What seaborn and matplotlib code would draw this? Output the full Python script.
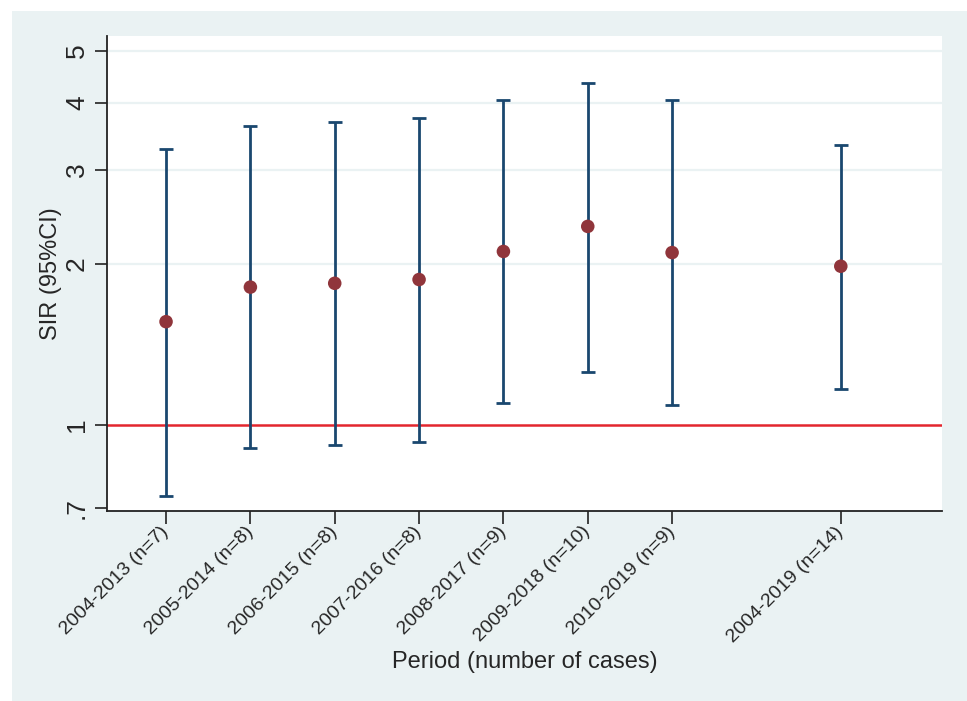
import matplotlib
matplotlib.use("Agg")
import matplotlib.pyplot as plt
import seaborn as sns
import pandas as pd
import numpy as np
from matplotlib.patches import Rectangle
from matplotlib.ticker import FixedLocator, NullLocator

periods = ["2004-2013 (n=7)", "2005-2014 (n=8)", "2006-2015 (n=8)", "2007-2016 (n=8)",
           "2008-2017 (n=9)", "2009-2018 (n=10)", "2010-2019 (n=9)", "2004-2019 (n=14)"]
xpos = [1, 2, 3, 4, 5, 6, 7, 9]
sir = [1.56, 1.81, 1.84, 1.87, 2.11, 2.35, 2.10, 1.98]
ci_low = [0.738, 0.908, 0.919, 0.928, 1.098, 1.258, 1.089, 1.168]
ci_high = [3.28, 3.62, 3.68, 3.74, 4.04, 4.36, 4.04, 3.34]
yticks = [0.7, 1, 2, 3, 4, 5]
ytick_labels = [".7", "1", "2", "3", "4", "5"]

df = pd.DataFrame({"x": xpos, "sir": sir, "lo": ci_low, "hi": ci_high, "period": periods})

sns.set_style("white")
plt.rcParams["font.family"] = ["Liberation Sans", "DejaVu Sans"]

bg = "#eaf2f3"
navy = "#1a476f"
maroon = "#90353b"

fig = plt.figure(figsize=(9.67, 7.01), dpi=100)
fig.patch.set_facecolor("white")
fig.patches.append(Rectangle((12 / 967, 0), 1 - 12 / 967, 1 - 11 / 701,
                             transform=fig.transFigure, facecolor=bg, edgecolor="none", zorder=-10))
ax = fig.add_axes([107 / 967, 1 - 511 / 701, (942 - 107) / 967, (511 - 36) / 701])
ax.set_facecolor("white")
ax.set_yscale("log")
ax.set_ylim(0.691, 5.33)
ax.set_xlim(0.30, 10.2)

for v in [2, 3, 4, 5]:
    ax.axhline(v, color=bg, lw=1.6, zorder=0)
ax.axhline(1, color="#e3262e", lw=1.8, zorder=1)

err = np.array([df["sir"] - df["lo"], df["hi"] - df["sir"]])
ax.errorbar(df["x"], df["sir"], yerr=err, fmt="none", ecolor=navy, elinewidth=2.0,
            capsize=4.8, capthick=2.0, zorder=2)
sns.scatterplot(data=df, x="x", y="sir", color=maroon, s=95, edgecolor="none", ax=ax, zorder=3)

ax.yaxis.set_major_locator(FixedLocator(yticks))
ax.yaxis.set_minor_locator(NullLocator())
ax.set_yticklabels(ytick_labels, rotation=90, va="center", fontsize=19)
ax.set_xticks(xpos)
ax.set_xticklabels(periods, rotation=45, ha="right", va="center", rotation_mode="anchor", fontsize=14)

ax.tick_params(axis="both", which="major", direction="out", length=9, width=1.2, color="#222222",
               left=True, bottom=True, pad=4)
ax.tick_params(axis="x", pad=4)

for s in ["top", "right"]:
    ax.spines[s].set_visible(False)
for s in ["left", "bottom"]:
    ax.spines[s].set_color("#222222")
    ax.spines[s].set_linewidth(1.3)

ax.set_xlabel("Period (number of cases)", fontsize=17)
ax.set_ylabel("SIR (95%CI)", fontsize=17)
ax.xaxis.set_label_coords((525 - 107) / (942 - 107), -(651 - 511) / (511 - 36))
ax.yaxis.set_label_coords(-(107 - 62) / (942 - 107), 0.5)

fig.savefig("out.png", dpi=100, facecolor=fig.get_facecolor())
